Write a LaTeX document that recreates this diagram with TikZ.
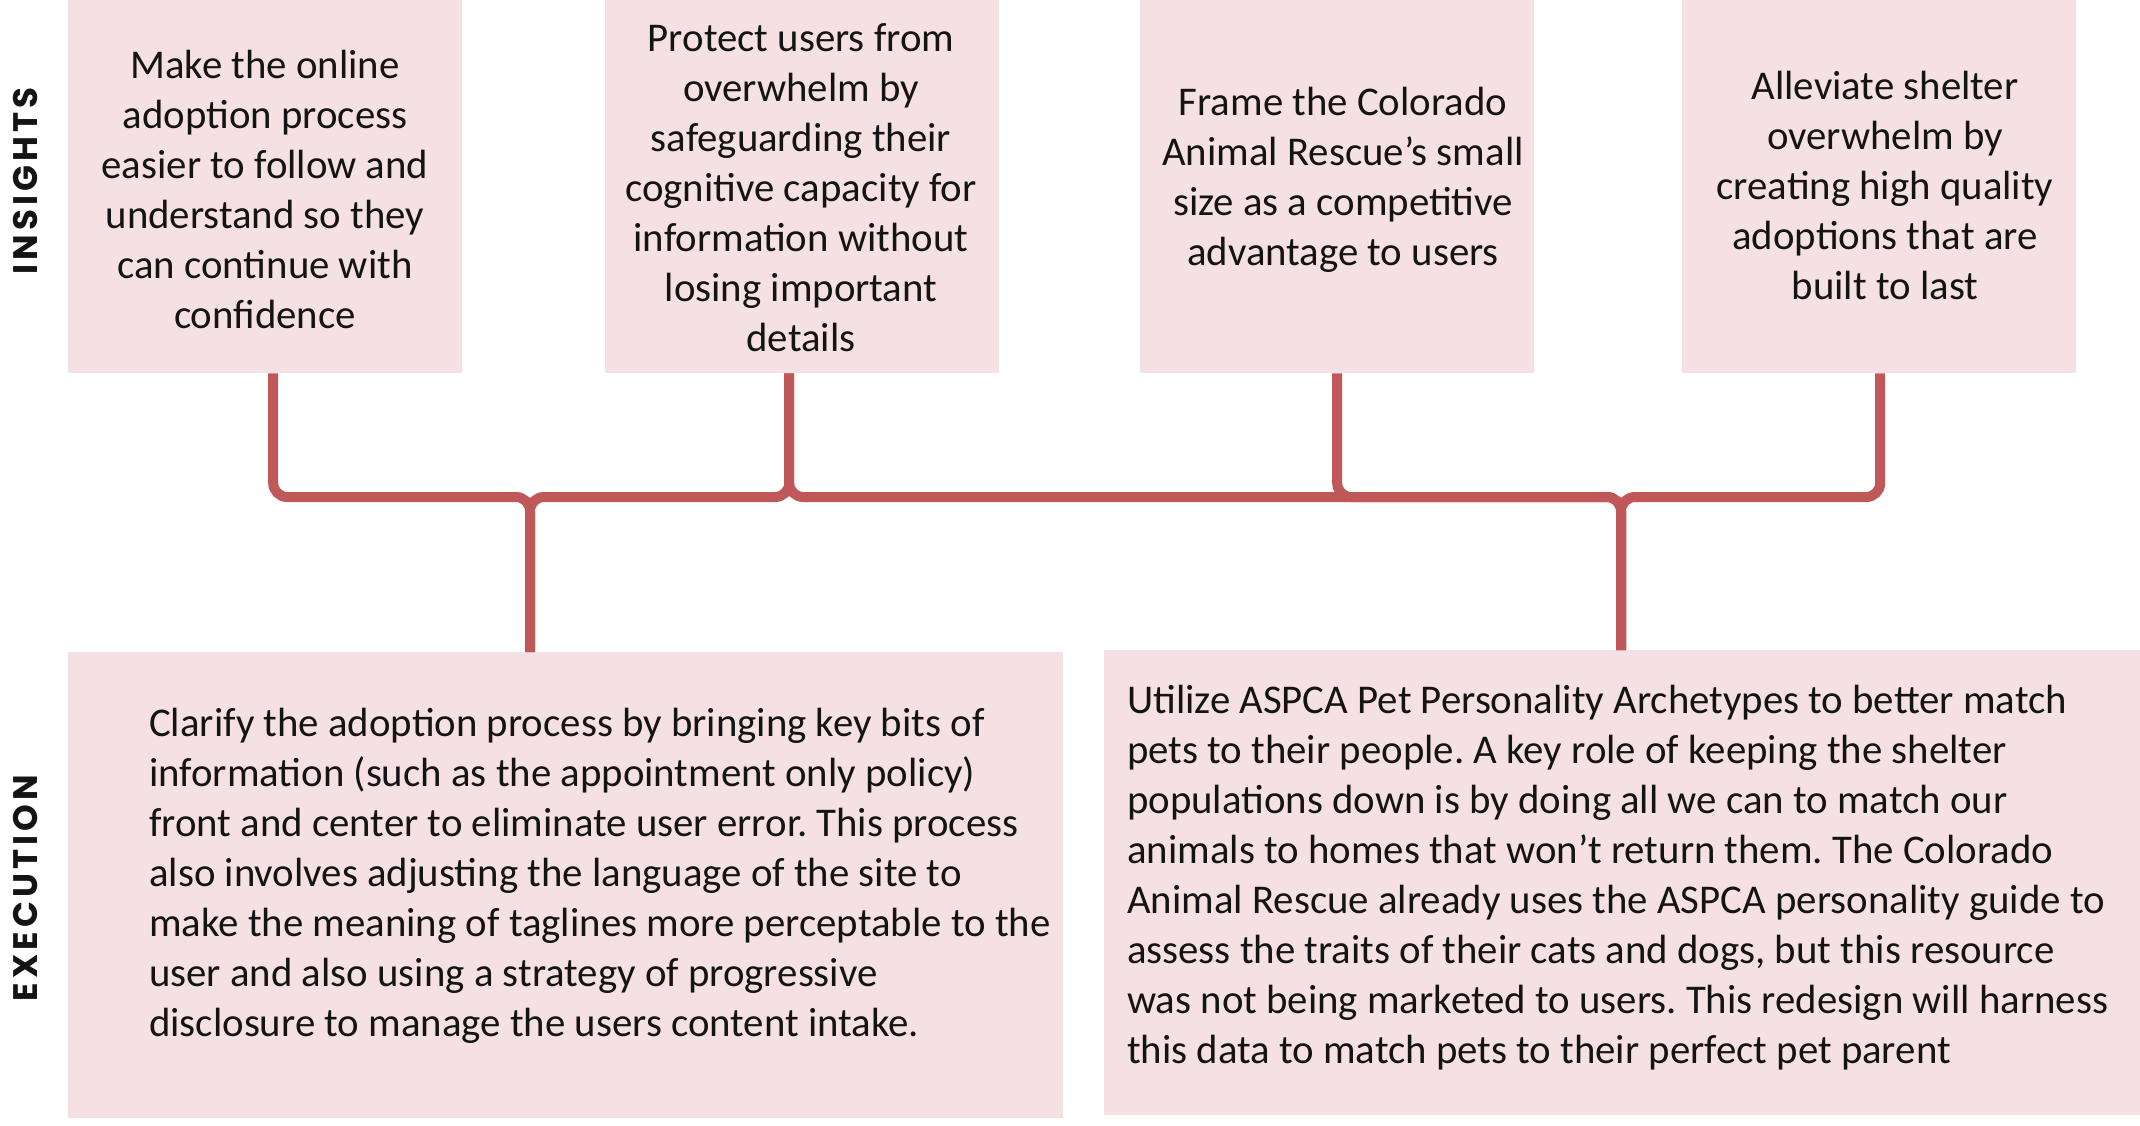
\documentclass[tikz,border=0pt]{standalone}
\usepackage{fontspec}
\setmainfont{Carlito}
\newfontfamily\labfont[LetterSpace=12]{Poppins}
\definecolor{boxpink}{RGB}{245,225,227}
\definecolor{linered}{RGB}{192,87,88}
\definecolor{ink}{RGB}{20,20,20}
\begin{document}
\begin{tikzpicture}[x=1pt,y=1pt,
  box/.style={fill=boxpink, draw=none, inner sep=0pt, anchor=north west},
  topbox/.style={box, minimum width=394pt, minimum height=373pt},
  txt/.style={text=ink, inner sep=0pt, font=\frenchspacing\fontsize{40.8}{50}\selectfont},
  ctxt/.style={txt, align=center},
  ltxt/.style={txt, align=left, anchor=west},
  sidelabel/.style={text=ink, inner sep=0pt, rotate=90, font=\labfont\bfseries\fontsize{34}{38}\selectfont},
  conn/.style={draw=linered, line width=10pt, rounded corners=14pt}
]
\useasboundingbox (0,0) rectangle (2140,-1126);
\fill[white] (0,0) rectangle (2140,-1126);

% boxes
\node[topbox] (b1) at (68,0) {};
\node[topbox] (b2) at (605,0) {};
\node[topbox] (b3) at (1140,0) {};
\node[topbox] (b4) at (1682,0) {};
\node[box, minimum width=995pt, minimum height=466pt] (b5) at (68,-652) {};
\node[box, minimum width=1036pt, minimum height=465pt] (b6) at (1104,-650) {};

% side labels
\node[sidelabel] (insights) at (26,-181) {INSIGHTS};
\node[sidelabel] (execution) at (26,-888) {EXECUTION};

% connector junctions
\coordinate (j1) at (530,-497);
\coordinate (j2) at (1621,-497);

\draw[conn] ([xshift=8pt]b1.south) |- (j1) -- (j1 |- b5.north);
\draw[conn] ([xshift=-13pt]b2.south) |- (j1) -- (j1 |- b5.north);
\draw[conn] ([xshift=-13pt]b2.south) |- (j2) -- (j2 |- b6.north);
\draw[conn] (b3.south) |- (j2) -- (j2 |- b6.north);
\draw[conn] ([xshift=1pt]b4.south) |- (j2) -- (j2 |- b6.north);

% texts
\node[ctxt] (t1) at (265,-189) {Make the online\\adoption process\\easier to follow and\\understand so they\\can continue with\\confidence};
\node[ctxt] (t2) at (801,-188) {Protect users from\\overwhelm by\\safeguarding their\\cognitive capacity for\\information without\\losing important\\details};
\node[ctxt] (t3) at (1343,-180) {Frame the Colorado\\Animal Rescue’s small\\size as a competitive\\advantage to users};
\node[ctxt] (t4) at (1885,-185) {Alleviate shelter\\overwhelm by\\creating high quality\\adoptions that are\\built to last};
\node[ltxt] (t5) at (149,-876) {Clarify the adoption process by bringing key bits of\\information (such as the appointment only policy)\\front and center to eliminate user error. This process\\also involves adjusting the language of the site to\\make the meaning of taglines more perceptable to the\\user and also using a strategy of progressive\\disclosure to manage the users content intake.};
\node[ltxt] (t6) at (1127,-878) {Utilize ASPCA Pet Personality Archetypes to better match\\pets to their people. A key role of keeping the shelter\\populations down is by doing all we can to match our\\animals to homes that won’t return them. The Colorado\\Animal Rescue already uses the ASPCA personality guide to\\assess the traits of their cats and dogs, but this resource\\was not being marketed to users. This redesign will harness\\this data to match pets to their perfect pet parent};
\end{tikzpicture}
\end{document}
